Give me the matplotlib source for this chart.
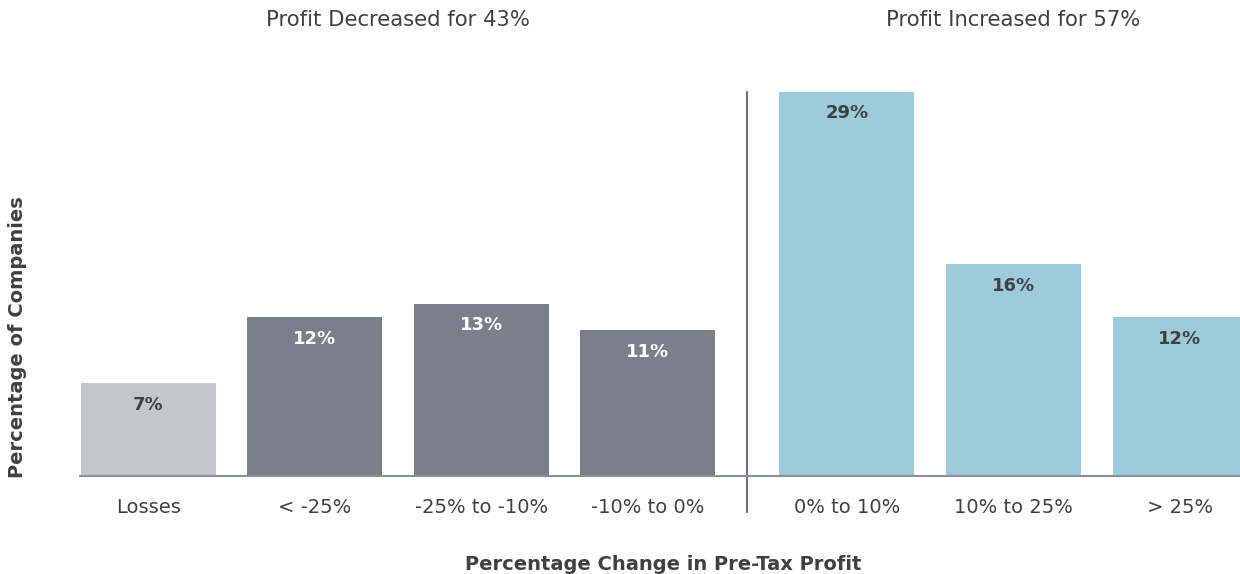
import numpy as np
import matplotlib.pyplot as plt

plt.rcParams['font.family'] = ['DejaVu Sans']

# data
categories = ['Losses', '< -25%', '-25% to -10%', '-10% to 0%',
              '0% to 10%', '10% to 25%', '> 25%']
shares = [7, 12, 13, 11, 29, 16, 12]
group_titles = ['Profit Decreased for 43%', 'Profit Increased for 57%']

# styling
light_grey = '#c3c7cb'
dark_grey = '#7a8089'
light_blue = '#9ccbdb'
bar_colors = [light_grey, dark_grey, dark_grey, dark_grey,
              light_blue, light_blue, light_blue]
label_colors = ['#404040', 'white', 'white', 'white',
                '#404040', '#404040', '#404040']
text_color = '#404040'

group_gap = 0.195
positions = np.array([0, 1, 2, 3, 4 + group_gap, 5 + group_gap, 6 + group_gap])
bar_width = 0.81

fig = plt.figure(figsize=(12.4, 5.74), dpi=100)
ax = fig.add_axes([80 / 1240, 1 - 476 / 574, 1 - 80 / 1240, 384 / 574])

ax.bar(positions, shares, width=bar_width, color=bar_colors)
ax.set_xlim(-0.41, (1240 - 148.5) / 166.5)
ax.set_ylim(0, 29)

# value labels inside the bars
for x, v, c in zip(positions, shares, label_colors):
    ax.annotate(f'{v}%', (x, v), xytext=(0, -9), textcoords='offset points',
                ha='center', va='top', fontsize=13, fontweight='semibold', color=c)

# category labels under the baseline
for x, cat in zip(positions, categories):
    ax.annotate(cat, (x, 0), xytext=(0, -23), textcoords='offset points',
                ha='center', va='center', fontsize=14, color=text_color)

# divider between decreased and increased
mid = (positions[3] + positions[4]) / 2
ax.plot([mid, mid], [29, -2.72], color='#5f6672', lw=1.3, clip_on=False)

# group headings
left_center = positions[:4].mean()
right_center = positions[5]
ax.annotate(group_titles[0], (left_center, 29), xytext=(0, 52), textcoords='offset points',
            ha='center', va='center', fontsize=15.2, color=text_color, annotation_clip=False)
ax.annotate(group_titles[1], (right_center, 29), xytext=(0, 52), textcoords='offset points',
            ha='center', va='center', fontsize=15.2, color=text_color, annotation_clip=False)

for s in ['top', 'right', 'left']:
    ax.spines[s].set_visible(False)
ax.spines['bottom'].set_color('#8a9099')
ax.spines['bottom'].set_linewidth(1.5)
ax.set_xticks([])
ax.set_yticks([])

fig.text(18 / 1240, 1 - 337 / 574, 'Percentage of Companies', rotation=90,
         ha='center', va='center', fontsize=14, fontweight='semibold', color=text_color)
fig.text(663 / 1240, 1 - 565 / 574, 'Percentage Change in Pre-Tax Profit',
         ha='center', va='center', fontsize=14, fontweight='semibold', color=text_color)

fig.savefig('out.png', dpi=100)
